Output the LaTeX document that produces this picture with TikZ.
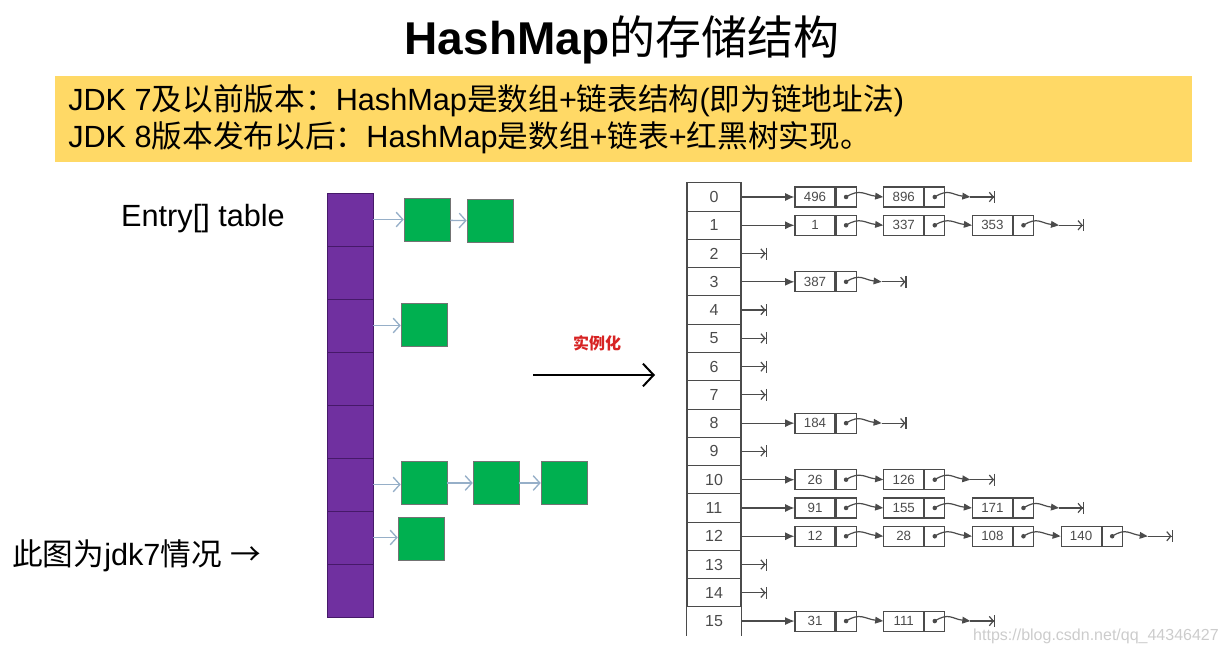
\documentclass[tikz,border=0pt]{standalone}
\usepackage{fontspec}
\setmainfont{Liberation Sans}
\newfontfamily\cjk{Noto Sans CJK SC}
\usetikzlibrary{positioning,arrows.meta}
\definecolor{bandfill}{RGB}{255,217,102}
\definecolor{slotfill}{RGB}{112,48,160}
\definecolor{slotline}{RGB}{70,25,105}
\definecolor{entryfill}{RGB}{0,176,80}
\definecolor{paleblue}{RGB}{150,175,200}
\definecolor{ink}{RGB}{75,75,75}
\definecolor{redtxt}{RGB}{215,35,35}

\begin{document}
\begin{tikzpicture}[x=0.75pt, y=-0.75pt,
		every node/.style={inner sep=0pt},
		slot/.style={draw=slotline, fill=slotfill, minimum width=34.5pt, minimum height=39.75pt},
		entry/.style={draw=black!55, fill=entryfill, minimum width=34.5pt, minimum height=32pt},
		chain/.style={draw=paleblue, line width=1pt, -{Straight Barb[length=5pt,width=11pt]}},
		cell/.style={draw=ink, line width=0.8pt, minimum width=40.5pt, minimum height=21.2pt, text=ink, font=\fontsize{12}{12}\selectfont},
		val/.style={draw=ink, line width=0.8pt, minimum width=30pt, minimum height=15pt, text=ink, font=\fontsize{10}{10}\selectfont},
		ptr/.style={draw=ink, line width=0.8pt, minimum width=15pt, minimum height=15pt},
		head/.style={draw=ink, line width=0.9pt, -{Latex[length=7pt,width=6pt]}},
		link/.style={draw=ink, line width=0.9pt, -{Triangle[length=6pt,width=5pt]}},
		nil/.style={draw=ink, line width=0.9pt, -{Straight Barb[length=3pt,width=7pt]Bar[width=9pt]}}]
		\useasboundingbox (0,0) rectangle (1227,654);

		% Title and note band
		\node[font=\fontsize{34.5}{36}\selectfont\bfseries] (title) at (622,40) {HashMap{\cjk\mdseries 的存储结构}};
		\node[fill=bandfill, minimum width=852.75pt, minimum height=64.5pt] (band) at (623.5,119) {};
		\node[anchor=west, font=\fontsize{23}{25}\selectfont] (jdk7) at (68,101) {JDK 7{\cjk 及以前版本：}HashMap{\cjk 是数组}+{\cjk 链表结构}({\cjk 即为链地址法})};
		\node[anchor=west, font=\fontsize{23}{25}\selectfont] (jdk8) at (68,138) {JDK 8{\cjk 版本发布以后：}HashMap{\cjk 是数组}+{\cjk 链表}+{\cjk 红黑树实现。}};

		% Left: jdk7 table
		\node[font=\fontsize{23}{25}\selectfont] (tname) at (203,219) {Entry[] table};
		\node[anchor=west, font=\fontsize{23}{25}\selectfont] (note) at (12,556) {{\cjk 此图为}jdk7{\cjk 情况} {\cjk →}};
		\foreach \i in {0,...,7}
			\node[slot] (s\i) at (350,{219.5+53*\i}) {};

		\node[entry] (e0a) at (427,220) {};
		\node[entry] (e0b) at (490,221) {};
		\node[entry] (e2a) at (424,325) {};
		\node[entry] (e5a) at (424,483) {};
		\node[entry] (e5b) at (496,483) {};
		\node[entry] (e5c) at (564,483) {};
		\node[entry] (e6a) at (421,539) {};
		\draw[chain] (s0.east) -- (s0.east -| e0a.west);
		\draw[chain] (e0a) -- (e0b);
		\draw[chain] (s2.east) -- (s2.east -| e2a.west);
		\draw[chain] (s5.east) -- (s5.east -| e5a.west);
		\draw[chain] (e5a) -- (e5b);
		\draw[chain] (e5b) -- (e5c);
		\draw[chain] (s6.east) -- (s6.east -| e6a.west);

		% Middle arrow
		\node[text=redtxt, font=\cjk\bfseries\fontsize{12}{12}\selectfont] (inst) at (597,343) {实例化};
		\coordinate (a1) at (533,375);
		\coordinate (a2) at (655,375);
		\draw[line width=1.5pt, -{Straight Barb[length=8pt,width=17pt]}] (a1) -- (a2);

		% Right: bucket array
		\foreach \i in {0,...,14}
			\node[cell] (t\i) at (714,{197+28.27*\i}) {\i};
		\node[cell, draw=none] (t15) at (714,{197+28.27*15}) {15};
		\draw[ink, line width=0.8pt] (t15.south west) -- (t15.north west) -- (t15.north east) -- (t15.south east);

		% Empty buckets
		\foreach \i in {2,4,5,6,7,9,13,14}{
			\coordinate (z\i) at ([xshift=19pt]t\i.east);
			\draw[nil] (t\i.east) -- (z\i);
		}

		% Linked lists
		\foreach \r/\n/\vals in {0/2/{496,896}, 1/3/{1,337,353}, 3/1/{387}, 8/1/{184},
				10/2/{26,126}, 11/3/{91,155,171}, 12/4/{12,28,108,140}, 15/2/{31,111}}{
			\foreach \v [count=\k, remember=\k as \pk (initially 0)] in \vals {
				\node[val] (v\r-\k) at ({815+88.7*(\k-1)},{197+28.27*\r}) {\v};
				\node[ptr, right=0pt of v\r-\k] (p\r-\k) {};
				\fill[ink] (p\r-\k.center) circle (1.7pt);
				\ifnum\k=1
					\draw[head] (t\r.east) -- (v\r-\k.west);
				\else
					\draw[link] (p\r-\pk.center) .. controls +(14,-9) and +(-18,-2) .. (v\r-\k.west);
				\fi
			}
			\coordinate (m\r) at ([xshift=18.75pt]p\r-\n.east);
			\coordinate (z\r) at ([xshift=37.5pt]p\r-\n.east);
			\draw[link] (p\r-\n.center) .. controls +(14,-9) and +(-18,-2) .. (m\r);
			\draw[nil] (m\r) -- (z\r);
		}

		% Watermark
		\node[text=black!20, font=\fontsize{12}{12}\selectfont] (mark) at (1096,636) {https://blog.csdn.net/qq\_44346427};
	\end{tikzpicture}
\end{document}
